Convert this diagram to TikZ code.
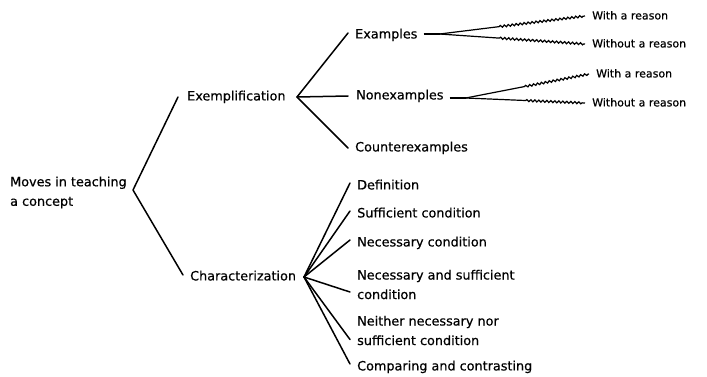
\documentclass[tikz,border=0pt]{standalone}
\usepackage{fontspec}
\setmainfont{DejaVu Sans}
\newfontfamily\reffont[FakeBold=0.6]{DejaVu Sans}
\usetikzlibrary{decorations.pathmorphing}
\begin{document}
\begin{tikzpicture}[x=1pt,y=-1pt,
  lbl/.style={anchor=west,inner sep=0pt,font=\reffont\fontsize{12.8}{19.5}\selectfont,text height=1.45ex,text depth=0.2ex},
  slbl/.style={anchor=west,inner sep=0pt,font=\reffont\fontsize{11}{16}\selectfont,text height=1.45ex,text depth=0.2ex},
  mlbl/.style={anchor=west,inner sep=0pt,font=\reffont\fontsize{12.8}{19.5}\selectfont,align=left},
  branch/.style={line width=1.5pt,line cap=round,line join=round},
  stub/.style={line width=2.2pt},
  wavy/.style={line width=1.2pt,decorate,decoration={snake,amplitude=1pt,segment length=4pt,pre length=60pt,post length=1pt}}]
\useasboundingbox (0,0) rectangle (707,376);
% nodes
\node[mlbl] (root) at (10,192.5) {Moves in teaching\\a concept};
\node[lbl] (exemp) at (187,97) {Exemplification};
\node[lbl] (charac) at (190,277) {Characterization};
\node[lbl] (examples) at (355,35) {Examples};
\node[lbl] (nonex) at (356,96) {Nonexamples};
\node[lbl] (counter) at (355,148) {Counterexamples};
\node[slbl] (wa) at (592,16) {With a reason};
\node[slbl] (woa) at (592,44) {Without a reason};
\node[slbl] (wb) at (596,74) {With a reason};
\node[slbl] (wob) at (592,103) {Without a reason};
\node[lbl] (def) at (357,186) {Definition};
\node[lbl] (suff) at (357,214) {Sufficient condition};
\node[lbl] (nec) at (357,243) {Necessary condition};
\node[mlbl] (ns) at (357,284.5) {Necessary and sufficient\\condition};
\node[mlbl] (neither) at (357,330.5) {Neither necessary nor\\sufficient condition};
\node[lbl] (comp) at (357,367) {Comparing and contrasting};
% junctions
\coordinate (jr) at (133,190);
\coordinate (je) at (297,97);
\coordinate (jc) at (304,277);
% root branches
\draw[branch] ([xshift=-9pt]exemp.west) -- (jr) -- ([xshift=-7pt,yshift=2pt]charac.west);
% exemplification branches
\draw[branch] ([xshift=-7pt,yshift=2pt]examples.west) -- (je) -- ([xshift=-8pt]nonex.west);
\draw[branch] (je) -- ([xshift=-7pt]counter.west);
% characterization branches
\foreach \t in {def,suff,nec,comp}
  \draw[branch] (jc) -- ([xshift=-7pt,yshift=3pt]\t.west);
\draw[branch] (jc) -- ([xshift=-7pt,yshift=-7.5pt]ns.west);
\draw[branch] (jc) -- ([xshift=-7pt,yshift=-9pt]neither.west);
% wavy branches
\coordinate (ea) at ([xshift=6pt,yshift=1pt]examples.east);
\coordinate (eb) at ([xshift=22pt,yshift=1pt]examples.east);
\draw[stub] (ea) -- (eb);
\draw[wavy] (eb) -- ([xshift=-7pt]wa.west);
\draw[wavy] (eb) -- ([xshift=-7pt]woa.west);
\coordinate (na) at ([xshift=6pt,yshift=-2pt]nonex.east);
\coordinate (nb) at ([xshift=22pt,yshift=-2pt]nonex.east);
\draw[stub] (na) -- (nb);
\draw[wavy] (nb) -- ([xshift=-7pt]wb.west);
\draw[wavy] (nb) -- ([xshift=-7pt]wob.west);
\end{tikzpicture}
\end{document}
